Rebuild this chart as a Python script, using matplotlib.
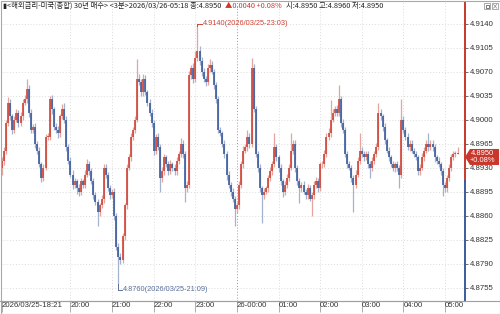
import numpy as np
import matplotlib
matplotlib.use("Agg")
import matplotlib.pyplot as plt
from matplotlib.patches import Polygon, Rectangle
from matplotlib.lines import Line2D

plt.rcParams['font.family'] = ['Noto Sans CJK KR', 'DejaVu Sans']

# 3-minute bars, 2026/03/25 18:21 .. 2026/03/26 05:18
close = [4.8940, 4.8955, 4.8995, 4.9025, 4.9005, 4.8985, 4.9000, 4.9010, 4.8995, 4.9005,
         4.9025, 4.9030, 4.9045, 4.9010, 4.8985, 4.8990, 4.8965, 4.8955, 4.8935, 4.8915,
         4.8930, 4.8975, 4.8975, 4.9030, 4.9015, 4.8990, 4.8985, 4.8980, 4.9005, 4.9015,
         4.9000, 4.8960, 4.8940, 4.8920, 4.8905, 4.8910, 4.8900, 4.8895, 4.8910, 4.8905,
         4.8920, 4.8935, 4.8925, 4.8910, 4.8890, 4.8880, 4.8865, 4.8875, 4.8885, 4.8930,
         4.8920, 4.8900, 4.8890, 4.8895, 4.8860, 4.8815, 4.8800, 4.8795, 4.8830, 4.8875,
         4.8930, 4.8945, 4.8975, 4.8985, 4.9000, 4.9060, 4.9055, 4.9040, 4.9060, 4.9040,
         4.9025, 4.9010, 4.8995, 4.8955, 4.8975, 4.8960, 4.8915, 4.8925, 4.8945, 4.8935,
         4.8925, 4.8935, 4.8930, 4.8925, 4.8940, 4.8950, 4.8965, 4.8950, 4.8900, 4.8905,
         4.9065, 4.9075, 4.9060, 4.9090, 4.9100, 4.9085, 4.9070, 4.9060, 4.9055, 4.9075,
         4.9080, 4.9070, 4.9050, 4.9030, 4.8985, 4.8980, 4.8965, 4.8950, 4.8920, 4.8905,
         4.8895, 4.8885, 4.8870, 4.8875, 4.8905, 4.8935, 4.8955, 4.8960, 4.8975, 4.8965,
         4.9075, 4.9015, 4.8950, 4.8930, 4.8900, 4.8890, 4.8895, 4.8900, 4.8915, 4.8925,
         4.8935, 4.8960, 4.8945, 4.8930, 4.8910, 4.8895, 4.8905, 4.8915, 4.8930, 4.8955,
         4.8965, 4.8930, 4.8910, 4.8900, 4.8905, 4.8895, 4.8890, 4.8900, 4.8885, 4.8890,
         4.8905, 4.8910, 4.8900, 4.8935, 4.8935, 4.8950, 4.8975, 4.8980, 4.9000, 4.9010,
         4.9015, 4.9010, 4.9030, 4.8995, 4.8985, 4.8950, 4.8935, 4.8930, 4.8915, 4.8905,
         4.8920, 4.8940, 4.8955, 4.8950, 4.8945, 4.8950, 4.8935, 4.8930, 4.8940, 4.8950,
         4.8960, 4.9010, 4.9005, 4.8990, 4.8970, 4.8955, 4.8945, 4.8935, 4.8930, 4.8935,
         4.8930, 4.8920, 4.9000, 4.8985, 4.8975, 4.8960, 4.8965, 4.8955, 4.8950, 4.8945,
         4.8925, 4.8930, 4.8945, 4.8955, 4.8965, 4.8960, 4.8965, 4.8960, 4.8945, 4.8940,
         4.8935, 4.8925, 4.8905, 4.8900, 4.8915, 4.8930, 4.8945, 4.8950, 4.8950, 4.8950]
first_open = 4.8930

# wick lengths above / below the body, in units of 0.0001
hi_ext = [6, 5, 4, 8, 5, 4, 6, 5, 4, 6, 5, 6, 15, 5, 6, 4, 5, 4, 5, 4,
          5, 4, 6, 5, 6, 4, 5, 6, 4, 8, 10, 5, 4, 5, 6, 5, 4, 6, 5, 4,
          6, 8, 5, 4, 5, 4, 5, 4, 5, 6, 5, 4, 5, 4, 5, 4, 5, 6, 5, 4,
          6, 5, 6, 4, 5, 29, 6, 5, 6, 5, 4, 5, 6, 5, 4, 5, 4, 6, 5, 4,
          5, 6, 4, 5, 6, 5, 8, 5, 4, 5, 6, 5, 8, 10, 40, 8, 6, 5, 4, 6,
          8, 5, 4, 5, 4, 5, 4, 5, 4, 5, 4, 5, 4, 5, 6, 5, 6, 5, 10, 5,
          15, 6, 5, 4, 5, 4, 5, 4, 5, 6, 5, 21, 5, 4, 5, 4, 5, 6, 5, 25,
          6, 5, 4, 5, 4, 5, 4, 6, 5, 4, 5, 6, 5, 4, 5, 6, 5, 8, 29, 6,
          5, 6, 20, 5, 6, 5, 4, 5, 4, 5, 6, 5, 25, 5, 4, 5, 4, 5, 6, 5,
          6, 15, 5, 4, 5, 4, 5, 4, 5, 4, 5, 4, 30, 5, 4, 5, 6, 5, 4, 5,
          4, 5, 6, 5, 6, 15, 5, 6, 5, 4, 5, 4, 5, 4, 5, 6, 5, 4, 5, 10]
lo_ext = [10, 6, 5, 4, 5, 6, 5, 4, 5, 4, 5, 4, 5, 6, 5, 4, 6, 5, 4, 6,
          5, 4, 5, 4, 6, 5, 4, 6, 5, 4, 5, 6, 5, 4, 6, 5, 8, 6, 5, 4,
          5, 4, 5, 4, 6, 5, 20, 5, 4, 6, 5, 4, 5, 4, 6, 5, 40, 5, 4, 6,
          5, 4, 5, 4, 5, 4, 5, 6, 5, 4, 5, 4, 5, 6, 5, 4, 20, 6, 5, 4,
          5, 4, 5, 6, 5, 4, 5, 6, 20, 5, 4, 5, 6, 5, 4, 5, 6, 5, 6, 4,
          5, 4, 5, 6, 5, 4, 5, 6, 8, 5, 6, 5, 25, 6, 5, 4, 5, 4, 5, 6,
          5, 4, 5, 6, 5, 40, 5, 4, 5, 4, 5, 4, 5, 6, 5, 8, 5, 4, 5, 4,
          5, 6, 5, 21, 5, 4, 6, 5, 4, 25, 5, 4, 5, 4, 5, 4, 5, 4, 5, 4,
          5, 4, 5, 6, 5, 4, 5, 4, 6, 40, 5, 4, 5, 4, 5, 4, 5, 15, 5, 4,
          5, 4, 5, 6, 5, 4, 5, 4, 5, 6, 5, 20, 5, 4, 5, 4, 5, 4, 5, 4,
          6, 5, 4, 5, 4, 5, 4, 5, 6, 5, 4, 5, 16, 6, 5, 4, 5, 4, 5, 0]

xtick_bars = [0, 33, 53, 73, 93, 113, 133, 153, 173, 193, 213]
xtick_labels = ["2026/03/25-18:21", "20:00", "21:00", "22:00", "23:00", "26-00:00",
                "01:00", "02:00", "03:00", "04:00", "05:00"]
yticks = [4.9140, 4.9105, 4.9070, 4.9035, 4.9000, 4.8965, 4.8930, 4.8895,
          4.8860, 4.8825, 4.8790, 4.8755]
ref_price = 4.8910
last_price = 4.8950

UP, UP_W = "#cf4336", "#e4a59c"
DN, DN_W = "#3b5b9c", "#a2b2cf"
LATIN = ["Liberation Sans", "DejaVu Sans"]

close = np.array(close)
opn = np.concatenate([[first_open], close[:-1]])
top = np.maximum(opn, close)
bot = np.minimum(opn, close)
high = top + np.array(hi_ext) * 1e-4
low = bot - np.array(lo_ext) * 1e-4
idx = np.arange(len(close))
up = close >= opn

W, H = 500, 314
fig = plt.figure(figsize=(W / 100, H / 100), dpi=100)
ax = fig.add_axes([1 / W, 13 / H, 464 / W, 299 / H])
ax.set_xlim(-0.4, 222.6)
ax.set_ylim(4.87356, 4.91716)

# grid
for y in yticks:
    ax.axhline(y, color="#dcdcdc", lw=0.7, ls=(0, (1, 2)), zorder=0)
for b in xtick_bars[1:]:
    c = "#9a9a9a" if b == 113 else "#dcdcdc"
    ax.axvline(b, color=c, lw=0.7, ls=(0, (1, 2)), zorder=0)

# candles
ax.vlines(idx[up], low[up], high[up], color=UP_W, lw=0.9, zorder=2)
ax.vlines(idx[~up], low[~up], high[~up], color=DN_W, lw=0.9, zorder=2)
btop = np.maximum(top, bot + 0.00008)
ax.vlines(idx[up], bot[up], btop[up], color=UP, lw=1.2, zorder=3)
ax.vlines(idx[~up], bot[~up], btop[~up], color=DN, lw=1.2, zorder=3)

# max / min markers
imax = int(np.argmax(high))
imin = int(np.argmin(low))
ax.plot([imax, imax, imax + 2.2], [high[imax] - 0.0004, high[imax], high[imax]],
        color=UP, lw=0.7, zorder=4)
ax.text(imax + 2.4, high[imax], "4.9140(2026/03/25-23:03)", color=UP, fontsize=5.3,
        va="center", ha="left", family=LATIN)
ylow_txt = low[imin] - 0.0008
ax.plot([imin, imin, imin + 1.8], [low[imin], ylow_txt, ylow_txt],
        color="#5a6f9c", lw=0.7, zorder=4)
ax.text(imin + 2.0, ylow_txt, "4.8760(2026/03/25-21:09)", color="#5a6f9c", fontsize=5.3,
        va="center", ha="left", family=LATIN)

# axes styling
for s in ["top", "left", "right"]:
    ax.spines[s].set_visible(False)
ax.spines["bottom"].set_color("#a0a0a0")
ax.spines["bottom"].set_linewidth(0.8)
ax.yaxis.tick_right()
ax.set_yticks(yticks)
ax.set_yticklabels(["%.4f" % v for v in yticks])
ax.tick_params(axis="y", length=2.5, width=0.6, color="#555555", pad=1,
               labelsize=5.6, labelcolor="#333333")
ax.set_xticks(xtick_bars)
ax.set_xticklabels(xtick_labels)
ax.tick_params(axis="x", length=8, width=0.6, color="#a0a0a0", pad=-7.2,
               labelsize=5.6, labelcolor="#333333")
for lbl in ax.get_xticklabels() + ax.get_yticklabels():
    lbl.set_fontfamily(LATIN)
for lbl in ax.get_xticklabels():
    lbl.set_ha("left")

# right axis line: red above reference price, blue below
yt = ax.get_yaxis_transform()
ax.plot([1, 1], [ref_price, 4.91716], transform=yt, color="#c8372b", lw=1.4, clip_on=False)
ax.plot([1, 1], [4.87356, ref_price], transform=yt, color="#3b5b9c", lw=1.4, clip_on=False)

# current price tag
fig.canvas.draw()
ypx = ax.transData.transform((0, last_price))[1]
tf = fig.transFigure
xp = 465 / W
yc = ypx / H - 3 / H
tag = Polygon([[xp, yc], [xp + 5 / W, yc + 8 / H], [1 - 1 / W, yc + 8 / H],
               [1 - 1 / W, yc - 8 / H], [xp + 5 / W, yc - 8 / H]],
              closed=True, transform=tf, facecolor="#c8372b", edgecolor="none", zorder=10)
fig.patches.append(tag)
fig.text(482 / W, yc + 3.5 / H, "4.8950", color="white", fontsize=5.4, ha="center",
         va="center", family=LATIN, zorder=11)
fig.text(482 / W, yc - 4 / H, "+0.08%", color="white", fontsize=5.4, ha="center",
         va="center", family=LATIN, zorder=11)

# header, three pieces laid out one after another
hy = 1 - 6 / H
renderer = fig.canvas.get_renderer()
pieces = [("▮<해외금리-미국(종합) 30년 매수> <3분>2026/03/26-05:18 종:4.8950", "#222222"),
          ("▲0.0040 +0.08%", "#d0342a"),
          ("시:4.8950 고:4.8960 저:4.8950", "#222222")]
xcur = 3
for txt, col in pieces:
    t = fig.text(xcur / W, hy, txt, fontsize=5.3, color=col, va="center", ha="left")
    bb = t.get_window_extent(renderer)
    xcur = bb.x1 + 4

for x0 in (484, 492):
    fig.patches.append(Rectangle((x0 / W, 1 - 9 / H), 6 / W, 6 / H, transform=tf,
                                 facecolor="white", edgecolor="#888888", lw=0.5))
fig.text(495 / W, 1 - 6 / H, "×", fontsize=4.5, color="#555555", ha="center", va="center")
fig.patches.append(Rectangle((485.5 / W, 1 - 7.5 / H), 3 / W, 2.5 / H, transform=tf,
                             facecolor="none", edgecolor="#444444", lw=0.5))

# outer frame and bottom rule
fig.lines.append(Line2D([0, 1], [13 / H, 13 / H], transform=tf, color="#a0a0a0", lw=0.8))
fig.patches.append(Rectangle((0.5 / W, 0.5 / H), 1 - 1 / W, 1 - 1 / H, transform=tf,
                             facecolor="none", edgecolor="#a8a8a8", lw=0.8))

fig.savefig("out.png", dpi=100)
